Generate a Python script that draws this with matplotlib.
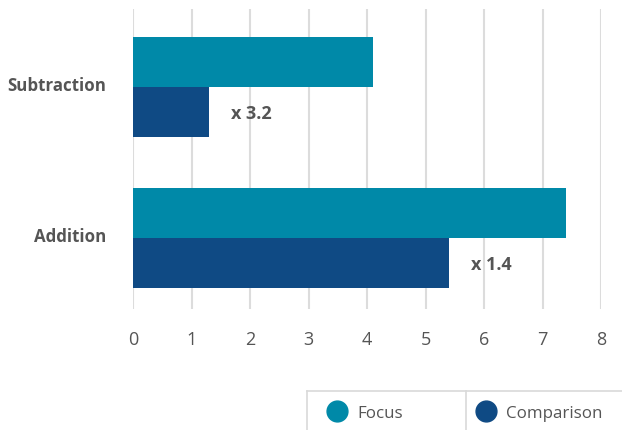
import numpy as np
import matplotlib.pyplot as plt
from matplotlib.lines import Line2D

categories = ["Subtraction", "Addition"]
focus = [4.1, 7.4]
comparison = [1.3, 5.4]
ratios = ["x 3.2", "x 1.4"]
series_names = ["Focus", "Comparison"]

TEAL = "#0089a8"
NAVY = "#0f4a84"
TEXT = "#555555"
GRID = "#dcdcdc"

plt.rcParams["font.family"] = ["Open Sans", "DejaVu Sans"]

W, H = 622, 431
fig = plt.figure(figsize=(W / 100, H / 100), dpi=100)
ax = fig.add_axes([133 / W, 1 - 310 / H, (601 - 133) / W, 300 / H])

y = np.arange(len(categories))
h = 0.33
ax.barh(y - h / 2, focus, height=h, color=TEAL, zorder=2)
ax.barh(y + h / 2, comparison, height=h, color=NAVY, zorder=2)

for yi, c, r in zip(y, comparison, ratios):
    ax.text(c + 0.38, yi + h / 2 + 0.01, r, va="center", ha="left",
            fontsize=13, fontweight="bold", color=TEXT, zorder=3)

ax.set_xlim(0, 8)
ax.set_ylim(1.47, -0.517)
ax.set_xticks(range(9))
ax.xaxis.grid(True, color=GRID, linewidth=1.5, zorder=0)
ax.set_yticks(y - 0.025)
ax.set_yticklabels(categories, fontweight="bold", fontsize=12.2, color=TEXT)
ax.tick_params(axis="y", length=0, pad=19)
ax.tick_params(axis="x", length=0, pad=15, labelsize=13, labelcolor=TEXT)
for s in ax.spines.values():
    s.set_visible(False)

# legend boxes along the bottom edge
def fx(px):
    return px / W

def fy(py):
    return 1 - py / H

lc = "#d9d9d9"
fig.add_artist(Line2D([fx(307), fx(622)], [fy(392), fy(392)], color=lc, lw=1.2))
fig.add_artist(Line2D([fx(307), fx(307)], [fy(392), fy(431)], color=lc, lw=1.2))
fig.add_artist(Line2D([fx(466), fx(466)], [fy(392), fy(431)], color=lc, lw=1.2))
for name, col, cx in zip(series_names, [TEAL, NAVY], [337, 486]):
    fig.add_artist(Line2D([fx(cx)], [fy(412)], marker="o", markersize=15,
                          color=col, linestyle="none"))
    fig.text(fx(cx + 20), fy(414), name, va="center", ha="left",
             fontsize=12.2, color=TEXT)

fig.savefig("out.png", dpi=100)
